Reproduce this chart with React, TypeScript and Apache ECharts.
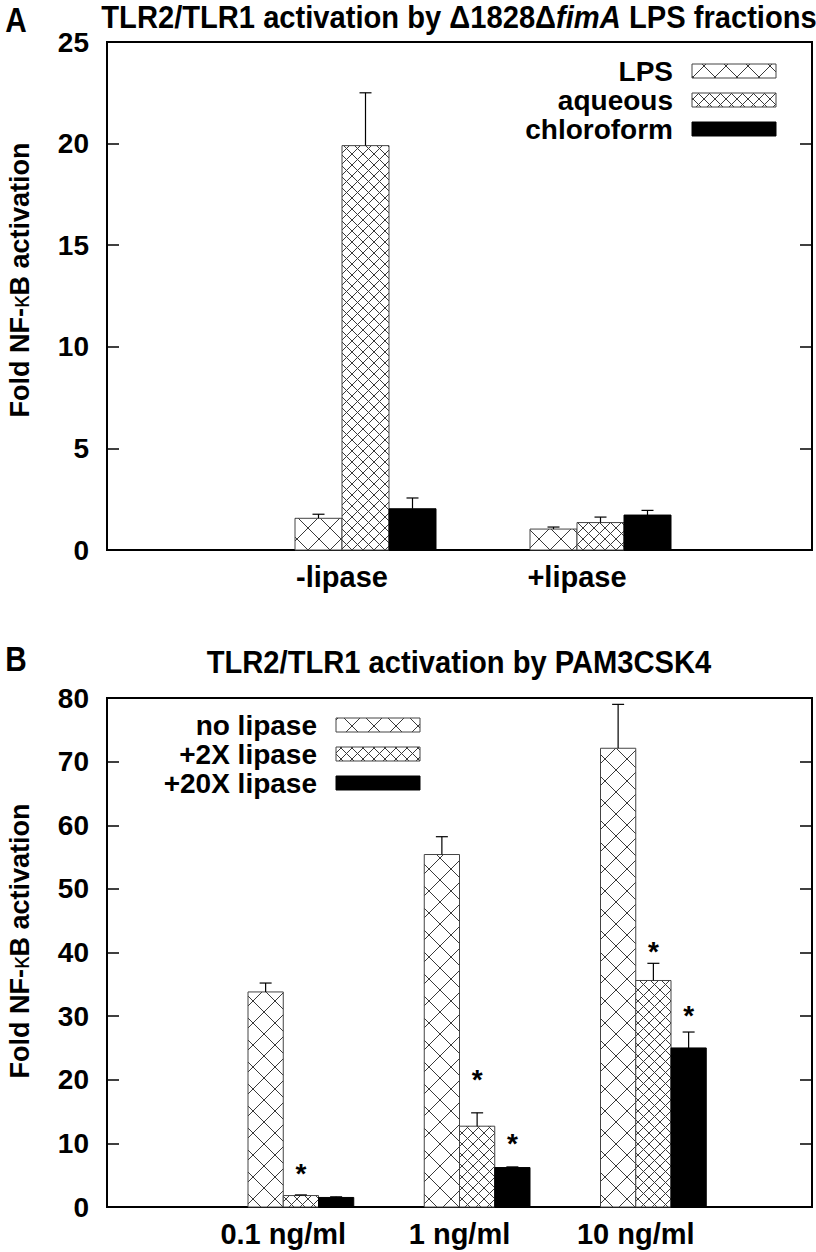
import { useEffect, useRef } from 'react';
import * as echarts from 'echarts';

// ---------- Panel A data ----------
const categoriesA = ['-lipase', '+lipase'];
const seriesNamesA = ['LPS', 'aqueous', 'chloroform'];
const lpsA = [1.56, 1.03];
const lpsErrA = [0.2, 0.1];
const aqueousA = [19.9, 1.35];
const aqueousErrA = [2.6, 0.27];
const chloroformA = [2.03, 1.72];
const chloroformErrA = [0.53, 0.23];
const yMinA = 0;
const yMaxA = 25;
const yStepA = 5;

// ---------- Panel B data ----------
const categoriesB = ['0.1 ng/ml', '1 ng/ml', '10 ng/ml'];
const seriesNamesB = ['no lipase', '+2X lipase', '+20X lipase'];
const noLipaseB = [33.8, 55.4, 72.1];
const noLipaseErrB = [1.4, 2.8, 6.9];
const twoXB = [1.8, 12.7, 35.6];
const twoXErrB = [0.1, 2.1, 2.7];
const twentyXB = [1.5, 6.2, 25.0];
const twentyXErrB = [0.1, 0.1, 2.5];
const starTwoXB = [6.2, 21.0, 41.1];
const starTwentyXB = [null, 11.0, 31.1];
const yMinB = 0;
const yMaxB = 80;
const yStepB = 10;

const FONT = '"Liberation Sans", Arial, Helvetica, sans-serif';
const BAR_W = 0.2;
const P_COARSE = 22;
const P_FINE = 11;
const HATCH = '#3a3a3a';
const BORDER = '#444';
const PATTERNS = ['coarse', 'fine', 'solid'];

function hatch(x0: number, y0: number, x1: number, y1: number, p: number) {
  const out: any[] = [];
  const st = { stroke: HATCH, lineWidth: 1 };
  for (let k = Math.ceil((x0 - y1) / p); k * p <= x1 - y0; k++) {
    const c = k * p;
    const xa = Math.max(x0, y0 + c);
    const xb = Math.min(x1, y1 + c);
    if (xb > xa) out.push({ type: 'line', shape: { x1: xa, y1: xa - c, x2: xb, y2: xb - c }, style: st, silent: true });
  }
  for (let k = Math.ceil((x0 + y0) / p); k * p <= x1 + y1; k++) {
    const c = k * p;
    const xa = Math.max(x0, c - y1);
    const xb = Math.min(x1, c - y0);
    if (xb > xa) out.push({ type: 'line', shape: { x1: xa, y1: c - xa, x2: xb, y2: c - xb }, style: st, silent: true });
  }
  return out;
}

function boxElements(x: number, y: number, w: number, h: number, pattern: string) {
  const els: any[] = [];
  const solid = pattern === 'solid';
  els.push({ type: 'rect', shape: { x, y, width: w, height: h }, style: { fill: solid ? '#000' : '#fff' }, silent: true });
  if (!solid) els.push(...hatch(x, y, x + w, y + h, pattern === 'coarse' ? P_COARSE : P_FINE));
  els.push({ type: 'rect', shape: { x, y, width: w, height: h }, style: { fill: 'none', stroke: solid ? '#000' : BORDER, lineWidth: 1 }, silent: true });
  return els;
}

function barSeries(name: string, gridIdx: number, values: number[], errs: number[], slot: number) {
  const pattern = PATTERNS[slot];
  return {
    type: 'custom',
    name,
    xAxisIndex: gridIdx,
    yAxisIndex: gridIdx * 2,
    data: values.map((v, i) => [i, v, errs[i]]),
    renderItem: (params: any, api: any) => {
      const g = api.value(0);
      const v = api.value(1);
      const e = api.value(2);
      const xc = g + (slot - 1) * BAR_W;
      const p0 = api.coord([xc - BAR_W / 2, v]);
      const p1 = api.coord([xc + BAR_W / 2, 0]);
      const pm = api.coord([xc, v + e]);
      const children = boxElements(p0[0], p0[1], p1[0] - p0[0], p1[1] - p0[1], pattern);
      const es = { stroke: '#000', lineWidth: 1.2 };
      children.push({ type: 'line', shape: { x1: pm[0], y1: p0[1], x2: pm[0], y2: pm[1] }, style: es });
      children.push({ type: 'line', shape: { x1: pm[0] - 6, y1: pm[1], x2: pm[0] + 6, y2: pm[1] }, style: es });
      return { type: 'group', children };
    },
  };
}

function starSeries(gridIdx: number, values: (number | null)[], slot: number) {
  return {
    type: 'custom',
    xAxisIndex: gridIdx,
    yAxisIndex: gridIdx * 2,
    data: values.map((v, i) => (v == null ? null : [i, v])).filter((d) => d != null),
    renderItem: (params: any, api: any) => {
      const xc = api.value(0) + (slot - 1) * BAR_W;
      const p = api.coord([xc, api.value(1)]);
      return {
        type: 'text',
        x: p[0],
        y: p[1] + 6,
        style: { text: '*', fontSize: 28, fontWeight: 'bold', fontFamily: FONT, fill: '#000', align: 'center', verticalAlign: 'middle' },
      };
    },
  };
}

function legendGraphics(names: string[], textRight: number, keyX: number, rows: number[]) {
  const els: any[] = [];
  names.forEach((n, j) => {
    els.push({
      type: 'text',
      x: textRight,
      y: rows[j],
      style: { text: n, fontSize: 28, fontWeight: 'bold', fontFamily: FONT, fill: '#000', align: 'right', verticalAlign: 'middle' },
    });
    els.push({ type: 'group', children: boxElements(keyX, rows[j] - 7, 84, 14, PATTERNS[j]) });
  });
  return els;
}

const labelFor = (cats: string[], v: number) => {
  const idx = Math.round(v + 0.1);
  return cats[idx] !== undefined && idx >= 0 ? cats[idx] : '';
};

function xAxisOpt(gridIndex: number, max: number, cats: string[]) {
  return {
    gridIndex,
    type: 'value',
    min: -1.1,
    max,
    interval: 1,
    axisLine: { show: true, onZero: false, lineStyle: { color: '#000', width: 2 } },
    axisTick: { show: false },
    splitLine: { show: false },
    axisLabel: {
      formatter: (v: number) => labelFor(cats, v),
      fontSize: 29,
      fontWeight: 'bold',
      color: '#000',
      fontFamily: FONT,
      margin: 12,
      showMinLabel: true,
      showMaxLabel: true,
    },
  };
}

function yAxisOpts(gridIndex: number, min: number, max: number, interval: number) {
  const base = {
    gridIndex,
    type: 'value',
    min,
    max,
    interval,
    axisLine: { show: true, onZero: false, lineStyle: { color: '#000', width: 2 } },
    axisTick: { show: true, inside: true, length: 12, lineStyle: { color: '#000', width: 1.5 } },
    splitLine: { show: false },
  };
  return [
    { ...base, position: 'left', axisLabel: { fontSize: 28, fontWeight: 'bold', color: '#000', fontFamily: FONT, margin: 18 } },
    { ...base, position: 'right', axisLabel: { show: false } },
  ];
}

const yNameText = '{b|Fold NF-}{k|κ}{b|B activation}';
const yNameRich = {
  b: { fontSize: 27, fontWeight: 'bold', fontFamily: FONT, fill: '#000' },
  k: { fontSize: 25, fontWeight: 'normal', fontFamily: FONT, fill: '#000' },
};

export default function App() {
  const ref = useRef<HTMLDivElement>(null);
  useEffect(() => {
    document.body.style.margin = '0';
    if (!ref.current) return;
    const chart = echarts.init(ref.current, null, { renderer: 'svg' });
    const option: any = {
      animation: false,
      grid: [
        { left: 107, top: 42, width: 705, height: 508, show: true, borderColor: '#000', borderWidth: 2 },
        { left: 107, top: 698, width: 705, height: 509, show: true, borderColor: '#000', borderWidth: 2 },
      ],
      xAxis: [xAxisOpt(0, 1.9, categoriesA), xAxisOpt(1, 2.9, categoriesB)],
      yAxis: [...yAxisOpts(0, yMinA, yMaxA, yStepA), ...yAxisOpts(1, yMinB, yMaxB, yStepB)],
      series: [
        barSeries(seriesNamesA[0], 0, lpsA, lpsErrA, 0),
        barSeries(seriesNamesA[1], 0, aqueousA, aqueousErrA, 1),
        barSeries(seriesNamesA[2], 0, chloroformA, chloroformErrA, 2),
        barSeries(seriesNamesB[0], 1, noLipaseB, noLipaseErrB, 0),
        barSeries(seriesNamesB[1], 1, twoXB, twoXErrB, 1),
        barSeries(seriesNamesB[2], 1, twentyXB, twentyXErrB, 2),
        starSeries(1, starTwoXB, 1),
        starSeries(1, starTwentyXB, 2),
      ],
      graphic: [
        { type: 'text', x: 16, y: 20, scaleX: 0.85, style: { text: 'A', fontSize: 35, fontWeight: 'bold', fontFamily: FONT, fill: '#000', align: 'center', verticalAlign: 'middle' } },
        { type: 'text', x: 16, y: 659, scaleX: 0.85, style: { text: 'B', fontSize: 35, fontWeight: 'bold', fontFamily: FONT, fill: '#000', align: 'center', verticalAlign: 'middle' } },
        {
          type: 'text',
          x: 459,
          y: 17,
          scaleX: 0.94,
          style: {
            text: '{n|TLR2/TLR1 activation by Δ1828Δ}{i|fimA}{n| LPS fractions}',
            align: 'center',
            verticalAlign: 'middle',
            rich: {
              n: { fontSize: 31, fontWeight: 'bold', fontFamily: FONT, fill: '#000' },
              i: { fontSize: 31, fontWeight: 'bold', fontStyle: 'italic', fontFamily: FONT, fill: '#000' },
            },
          },
        },
        { type: 'text', x: 459, y: 662, scaleX: 0.94, style: { text: 'TLR2/TLR1 activation by PAM3CSK4', fontSize: 31, fontWeight: 'bold', fontFamily: FONT, fill: '#000', align: 'center', verticalAlign: 'middle' } },
        { type: 'text', x: 20, y: 280, rotation: Math.PI / 2, style: { text: yNameText, rich: yNameRich, align: 'center', verticalAlign: 'middle' } },
        { type: 'text', x: 20, y: 941, rotation: Math.PI / 2, style: { text: yNameText, rich: yNameRich, align: 'center', verticalAlign: 'middle' } },
        ...legendGraphics(seriesNamesA, 673, 692, [71, 100, 129]),
        ...legendGraphics(seriesNamesB, 317, 336, [725, 754, 783]),
      ],
    };
    chart.setOption(option);
    return () => chart.dispose();
  }, []);
  return <div ref={ref} style={{ width: 816, height: 1252 }} />;
}
